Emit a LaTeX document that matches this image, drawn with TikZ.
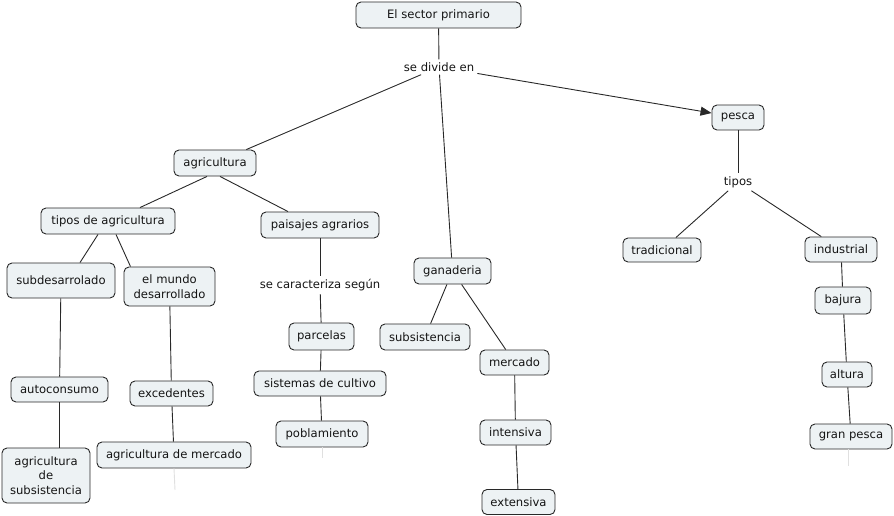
\documentclass[tikz,border=0pt]{standalone}
\usepackage{fontspec}
\setmainfont{DejaVu Sans}
\usetikzlibrary{arrows.meta,calc}
\definecolor{boxfill}{RGB}{237,242,244}
\definecolor{boxline}{RGB}{40,40,40}
\definecolor{txt}{RGB}{20,20,20}
\definecolor{conn}{RGB}{40,40,40}
\tikzset{
  box/.style={draw=boxline, fill=boxfill, rounded corners=5pt, line width=0.9pt,
    inner sep=0pt, align=center, text=txt, font=\fontsize{11.6}{14.5}\selectfont},
  lbl/.style={inner sep=3pt, text=txt, font=\fontsize{11.6}{14.5}\selectfont},
  link/.style={draw=conn, line width=0.9pt},
  faint/.style={draw=black!12, line width=0.9pt},
}
\begin{document}
\begin{tikzpicture}[x=1pt,y=-1pt]
\useasboundingbox (0,0) rectangle (894,516);
% nodes
\node[box, minimum width=165, minimum height=26] (top) at (438.5,15) {El sector primario};
\node[lbl] (divide) at (439,67) {se divide en};
\node[box, minimum width=82, minimum height=26] (agri) at (215,163) {agricultura};
\node[box, minimum width=52, minimum height=25] (pesca) at (738,117.5) {pesca};
\node[box, minimum width=77, minimum height=26] (gan) at (452.5,271) {ganaderia};
\node[box, minimum width=134, minimum height=26] (tipos) at (108,221) {tipos de agricultura};
\node[box, minimum width=118, minimum height=26] (pais) at (320,225) {paisajes agrarios};
\node[box, minimum width=108, minimum height=35] (subd) at (61,280.5) {subdesarrolado};
\node[box, minimum width=91, minimum height=39] (mundo) at (169.5,286.5) {el mundo\\desarrollado};
\node[box, minimum width=97, minimum height=25] (auto) at (59.5,389.5) {autoconsumo};
\node[box, minimum width=83, minimum height=25] (exc) at (171.5,393.5) {excedentes};
\node[box, minimum width=88, minimum height=55] (asubs) at (46,475.5) {agricultura\\de\\subsistencia};
\node[box, minimum width=154, minimum height=26] (amerc) at (174,455) {agricultura de mercado};
\node[lbl] (carac) at (320,285) {se caracteriza según};
\node[box, minimum width=65, minimum height=27] (parc) at (321.5,336.5) {parcelas};
\node[box, minimum width=132, minimum height=25] (sist) at (320,383.5) {sistemas de cultivo};
\node[box, minimum width=92, minimum height=26] (pobl) at (322,434) {poblamiento};
\node[box, minimum width=90, minimum height=26] (subsist) at (425,337) {subsistencia};
\node[box, minimum width=69, minimum height=25] (merc) at (514.5,362.5) {mercado};
\node[box, minimum width=71, minimum height=25] (int) at (515.5,432.5) {intensiva};
\node[box, minimum width=73, minimum height=25] (ext) at (518.5,502) {extensiva};
\node[lbl] (tiposl) at (738,182) {tipos};
\node[box, minimum width=78, minimum height=24] (trad) at (662,250) {tradicional};
\node[box, minimum width=72, minimum height=25] (ind) at (841,249.5) {industrial};
\node[box, minimum width=56, minimum height=27] (baj) at (843,300.5) {bajura};
\node[box, minimum width=50, minimum height=25] (alt) at (847,374.5) {altura};
\node[box, minimum width=82, minimum height=25] (gran) at (851,436.5) {gran pesca};
% faint stubs
\coordinate (amercstub) at (175,490);
\coordinate (poblstub) at (322,458);
\coordinate (granstub) at (848,466);
\draw[faint] (amerc.south) -- (amercstub);
\draw[faint] (pobl.south) -- (poblstub);
\draw[faint] ($(gran.south)+(-3,0)$) -- (granstub);
% connectors
\draw[link] (top) -- (divide);
\draw[link] (divide) -- (agri);
\draw[link] (divide) -- (gan);
\draw[link, -{Triangle[length=11pt,width=9pt]}] (divide) -- (pesca);
\draw[link] ($(agri.south)+(-8,0)$) -- ($(tipos.north)+(32,0)$);
\draw[link] ($(agri.south)+(5,0)$) -- ($(pais.north)+(-32,0)$);
\draw[link] ($(tipos.south)+(-10,0)$) -- ($(subd.north)+(19,0)$);
\draw[link] ($(tipos.south)+(8,0)$) -- ($(mundo.north)+(-39,0)$);
\draw[link] (subd) -- (auto);
\draw[link] (auto.south) -- (auto.south |- asubs.north);
\draw[link] (mundo) -- (exc);
\draw[link] (exc) -- (amerc);
\draw[link] (pais) -- (carac);
\draw[link] (carac) -- (parc);
\draw[link] (parc) -- (sist);
\draw[link] (sist) -- (pobl);
\draw[link] (gan) -- (subsist);
\draw[link] (gan) -- (merc);
\draw[link] (merc) -- (int);
\draw[link] (int) -- (ext);
\draw[link] (pesca) -- (tiposl);
\draw[link] (tiposl) -- (trad);
\draw[link] (tiposl) -- (ind);
\draw[link] (ind) -- (baj);
\draw[link] (baj) -- (alt);
\draw[link] (alt) -- (gran);
\end{tikzpicture}
\end{document}
